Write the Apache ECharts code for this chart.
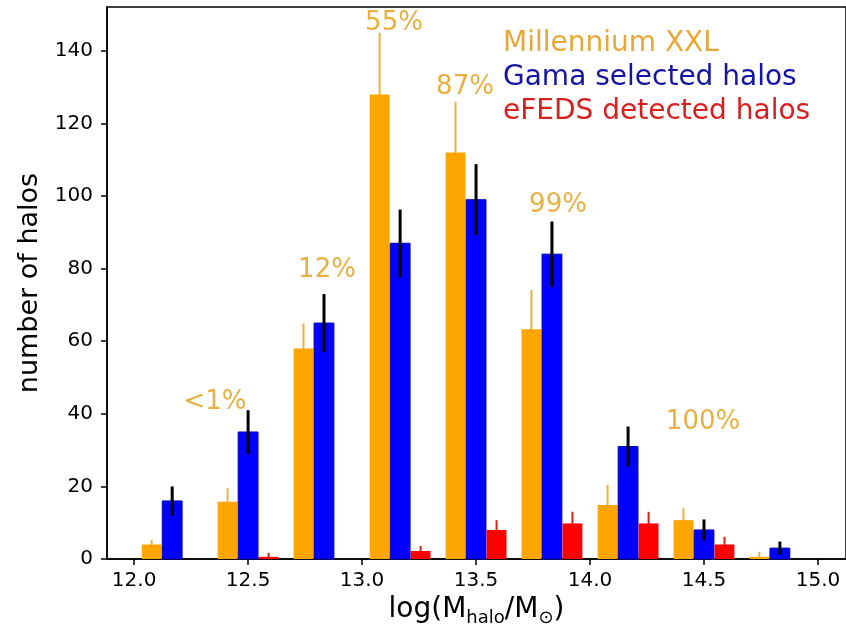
<!DOCTYPE html>
<html>
<head>
<meta charset="utf-8">
<script src="https://cdn.jsdelivr.net/npm/echarts@6/dist/echarts.min.js"></script>
<style>
  html, body { margin: 0; padding: 0; background: #fff; }
  #main { width: 846px; height: 633px; }
</style>
</head>
<body>
<div id="main"></div>
<script>
// bin centres (log M_halo), 1/3 dex bins
var binCenters = [12.167, 12.5, 12.833, 13.167, 13.5, 13.833, 14.167, 14.5, 14.833];
// Millennium XXL
var mxxl = [4, 15.8, 58, 128, 112, 63.3, 14.9, 10.7, 0.6];
var mxxlErr = [1.2, 3.7, 6.9, 17, 14, 10.8, 5.5, 3.3, 1.4];
// Gama selected halos
var gama = [16, 35, 65, 87, 99, 84, 31, 8, 3];
var gamaErr = [4, 6, 8, 9.3, 9.8, 9, 5.5, 2.9, 1.8];
// eFEDS detected halos
var efeds = [0, 0.6, 0, 2.2, 8, 9.8, 9.8, 4, 0];
var efedsErr = [0, 1.1, 0, 1.4, 2.7, 3.2, 3.2, 2.1, 0];
// percentages written above the groups
var pctLabels = ['<1%', '12%', '55%', '87%', '99%', '100%'];

var xTicks = [12.0, 12.5, 13.0, 13.5, 14.0, 14.5, 15.0];
var yTicks = [0, 20, 40, 60, 80, 100, 120, 140];

var barW = 0.087;   // bar width in dex
var shift = 0.09;   // offset of the orange / red bars from the blue one

var FONT = 'DejaVu Sans';

// build [x, y, err] rows
function rows(vals, errs, dx) {
	var out = [];
	for (var i = 0; i < binCenters.length; i++) {
		out.push([binCenters[i] + dx, vals[i], errs[i]]);
	}
	return out;
}

function barItem(color, stroke) {
	return function(params, api) {
		var x = api.value(0), y = api.value(1);
		if (!y) return;
		var p0 = api.coord([x - barW / 2, y]);
		var p1 = api.coord([x + barW / 2, 0]);
		return {
			type: 'rect',
			shape: { x: p0[0], y: p0[1], width: p1[0] - p0[0], height: p1[1] - p0[1] },
			style: { fill: color, stroke: stroke || null, lineWidth: stroke ? 1 : 0 }
		};
	};
}

function errItem(color, width) {
	return function(params, api) {
		var x = api.value(0), y = api.value(1), e = api.value(2);
		if (!e) return;
		var lo = api.coord([x, Math.max(0, y - e)]);
		var hi = api.coord([x, y + e]);
		return {
			type: 'line',
			shape: { x1: lo[0], y1: lo[1], x2: hi[0], y2: hi[1] },
			style: { stroke: color, lineWidth: width }
		};
	};
}

var chart = echarts.init(document.getElementById('main'));

var pctPos = [[215, 402], [327, 270], [394, 23], [465, 87], [558, 205], [703, 422]];
var graphics = [];
for (var i = 0; i < pctLabels.length; i++) {
	graphics.push({
		type: 'text', x: pctPos[i][0], y: pctPos[i][1], z: 100,
		style: { text: pctLabels[i], fill: '#E8B040', font: '26px "' + FONT + '"', textAlign: 'center', textVerticalAlign: 'middle' }
	});
}
var legendTxt = [['Millennium XXL', '#E8A838'], ['Gama selected halos', '#1414A0'], ['eFEDS detected halos', '#D82020']];
for (var j = 0; j < legendTxt.length; j++) {
	graphics.push({
		type: 'text', x: 503, y: 44 + j * 34, z: 100,
		style: { text: legendTxt[j][0], fill: legendTxt[j][1], font: '28px "' + FONT + '"', textAlign: 'left', textVerticalAlign: 'middle' }
	});
}

var option = {
	backgroundColor: '#fff',
	animation: false,
	textStyle: { fontFamily: FONT },
	grid: { left: 107, top: 7, width: 744, bottom: 74, show: true, borderColor: '#000', borderWidth: 1.5 },
	xAxis: {
		type: 'value', min: 11.881, max: 15.123,
		name: 'log(M{s|halo}/M{s|⊙})',
		nameLocation: 'middle', nameGap: 29,
		nameTextStyle: { fontSize: 28, color: '#000', fontFamily: FONT,
			rich: { s: { fontSize: 18, color: '#000', fontFamily: FONT, verticalAlign: 'bottom', padding: [17, 0, 0, 0] } } },
		axisLine: { lineStyle: { color: '#000', width: 1.5 } },
		axisTick: { show: true, length: 6, lineStyle: { color: '#000', width: 1.5 }, customValues: xTicks },
		axisLabel: { fontSize: 20, color: '#000', margin: 12, customValues: xTicks,
			formatter: function(v) { return v.toFixed(1); } },
		splitLine: { show: false }
	},
	yAxis: {
		type: 'value', min: 0, max: 152.1,
		name: 'number of halos',
		nameLocation: 'middle', nameGap: 60, nameRotate: 90,
		nameTextStyle: { fontSize: 27, color: '#000', fontFamily: FONT },
		axisLine: { show: true, lineStyle: { color: '#000', width: 1.5 } },
		axisTick: { show: true, length: 6, lineStyle: { color: '#000', width: 1.5 }, customValues: yTicks },
		axisLabel: { fontSize: 20, color: '#000', margin: 14, customValues: yTicks },
		splitLine: { show: false }
	},
	graphic: graphics,
	series: [
		{ type: 'custom', name: 'mxxl err', renderItem: errItem('#EDB040', 2), data: rows(mxxl, mxxlErr, -shift), z: 1 },
		{ type: 'custom', name: 'efeds err', renderItem: errItem('#C0281E', 2), data: rows(efeds, efedsErr, shift), z: 1 },
		{ type: 'custom', name: 'Millennium XXL', renderItem: barItem('#FFA500'), data: rows(mxxl, mxxlErr, -shift), z: 2 },
		{ type: 'custom', name: 'Gama selected halos', renderItem: barItem('#0000FF', '#0000B8'), data: rows(gama, gamaErr, 0), z: 2 },
		{ type: 'custom', name: 'eFEDS detected halos', renderItem: barItem('#FF0000'), data: rows(efeds, efedsErr, shift), z: 2 },
		{ type: 'custom', name: 'gama err', renderItem: errItem('#000', 3), data: rows(gama, gamaErr, 0), z: 3 }
	]
};

chart.setOption(option);
</script>
</body>
</html>
